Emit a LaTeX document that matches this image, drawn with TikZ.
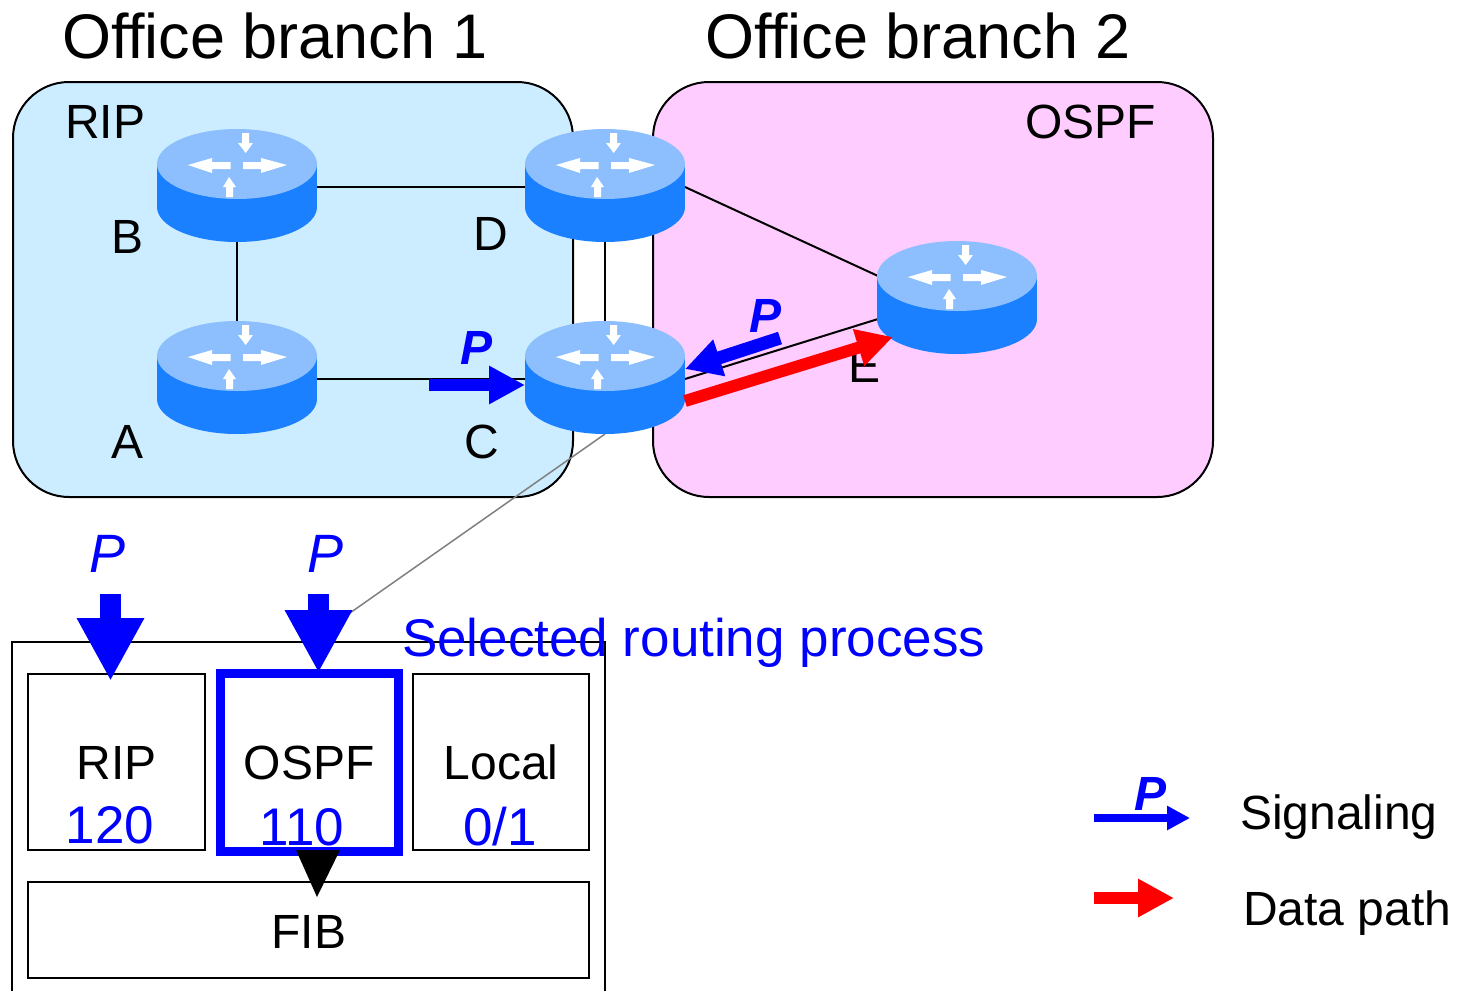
\documentclass[tikz,border=0pt]{standalone}
\usepackage{fontspec}
\setmainfont{Liberation Sans}
\usetikzlibrary{arrows.meta}
\definecolor{ripbg}{HTML}{CCECFF}
\definecolor{ospfbg}{HTML}{FFCCFF}
\definecolor{rtop}{HTML}{8DBFFF}
\definecolor{rbody}{HTML}{1A80FF}
\newcommand{\fs}[1]{\fontsize{#1}{#1}\selectfont}
\tikzset{
  lbl/.style={inner sep=0pt,outer sep=0pt,text=black,font=\fs{48}},
  title/.style={lbl,anchor=base west,font=\fs{63}},
  blue/.style={lbl,text=blue},
  boldp/.style={blue,anchor=base,font=\fs{48}\bfseries\itshape},
  bigp/.style={blue,anchor=base,font=\fs{54}\itshape},
  prio/.style={blue,anchor=base,font=\fs{53}},
  region/.style={draw=black,line width=2pt,rounded corners=56pt},
  box/.style={draw=black,line width=2pt,fill=white},
  link/.style={draw=black,line width=2pt},
  sig/.style={draw=blue,line width=#1,-{Triangle[length=36pt,width=36pt]}},
  dat/.style={draw=red,line width=12pt,-{Triangle[length=36pt,width=36pt]}},
  down/.style={draw=blue,line width=21pt,-{Triangle[length=63pt,width=63pt]}},
  wa/.style={fill=white,draw=none},
  rtr/.style={minimum width=160pt,minimum height=112pt,inner sep=0pt,outer sep=0pt,draw=none}
}
\newcommand{\router}[3]{%
  \node[rtr] (#1) at (#2,#3) {};
  \begin{scope}[shift={(#2,#3)}]
    \fill[rbody] (0,21) ellipse [x radius=80pt,y radius=35pt];
    \fill[rbody] (-80,-22) rectangle (80,21);
    \fill[rtop] (0,-22) ellipse [x radius=80pt,y radius=35pt];
    \fill[wa] (5,-53) -- (12,-53) -- (12,-43) -- (16,-43) -- (8.7,-33) -- (1,-43) -- (5,-43) -- cycle;
    \fill[wa] (-6.3,-24) -- (-25,-24) -- (-25,-28) -- (-49,-21) -- (-25,-13) -- (-25,-17) -- (-6.3,-17) -- cycle;
    \fill[wa] (6,-24) -- (24,-24) -- (24,-28) -- (50,-21) -- (24,-13) -- (24,-17) -- (6,-17) -- cycle;
    \fill[wa] (-11,11) -- (-4,11) -- (-4,1) -- (-1,1) -- (-8,-9) -- (-14,1) -- (-11,1) -- cycle;
  \end{scope}}
\begin{document}
\begin{tikzpicture}[x=1pt,y=-1pt]
\useasboundingbox (0,0) rectangle (1461,991);
\fill[white] (0,0) rectangle (1461,991);
% regions
\draw[region,fill=ospfbg] (653,82) rectangle (1213,497);
\draw[region,fill=ripbg] (13,82) rectangle (573,497);
\node[title] (t1) at (62,58) {Office branch 1};
\node[title] (t2) at (705,58) {Office branch 2};
\node[lbl,anchor=base west] (rip) at (65,138) {RIP};
\node[lbl,anchor=base west] (ospf) at (1025,138) {OSPF};
% router anchors
\node[rtr] (b0) at (237,186) {};
\node[rtr] (d0) at (605,186) {};
\node[rtr] (a0) at (237,378) {};
\node[rtr] (c0) at (605,378) {};
\node[rtr] (e0) at (957,298) {};
\coordinate (ed) at (878,276);
\coordinate (ec) at (878,319);
\coordinate (dd) at (685,187);
\coordinate (cc) at (685,379);
\coordinate (bb) at (317,187);
\coordinate (dl) at (525,187);
\coordinate (aa) at (317,379);
\coordinate (cl) at (525,379);
\coordinate (gend) at (310,641);
% selection box (open at the bottom)
\draw[link] (12,991) -- (12,642) -- (605,642) -- (605,991);
% connectors
\draw[link] (bb) -- (dl);
\draw[link] (b0.south) -- (a0.north);
\draw[link] (aa) -- (cl);
\draw[link] (d0.south) -- (c0.north);
\draw[link] (dd) -- (ed);
\draw[link] (cc) -- (ec);
\draw[draw=black!50,line width=1.5pt] (c0.south) -- (gend);
% routers
\router{b}{237}{186}
\router{d}{605}{186}
\router{a}{237}{378}
\router{c}{605}{378}
\router{e}{957}{298}
\node[lbl,anchor=base] (lb) at (128,253) {B};
\node[lbl,anchor=base] (ld) at (491,250) {D};
\node[lbl,anchor=base] (la) at (128,458) {A};
\node[lbl,anchor=base] (lc) at (482,458) {C};
\node[lbl,anchor=base] (le) at (864,382) {E};
% signalling and data path
\coordinate (s1) at (429,385);
\coordinate (s2) at (780,338);
\coordinate (d1) at (685,401);
\draw[sig=12pt] (s1) -- (c.west |- s1);
\draw[sig=13pt] (s2) -- (685,369);
\draw[dat] (d1) -- (893,337);
\node[boldp] (p1) at (477,364) {P};
\node[boldp] (p2) at (765,332) {P};
\node[bigp] (p3) at (108,572) {P};
\node[bigp] (p4) at (326,572) {P};
% process boxes
\node[box,minimum width=177pt,minimum height=176pt,inner sep=0pt] (brip) at (116.5,762) {};
\node[box,minimum width=176pt,minimum height=176pt,inner sep=0pt] (bloc) at (501,762) {};
\node[box,minimum width=561pt,minimum height=96pt,inner sep=0pt] (bfib) at (308.5,930) {};
\node[draw=blue,line width=9pt,minimum width=178pt,minimum height=178pt,inner sep=0pt] (bosp) at (309,762) {};
\node[lbl,anchor=base] (x1) at (117,779) {RIP};
\node[lbl,anchor=base] (x2) at (309,779) {OSPF};
\node[lbl,anchor=base] (x3) at (501,779) {Local};
\node[prio] (n1) at (110,843) {120};
\node[prio] (n2) at (302,845) {110};
\node[prio] (n3) at (500,845) {0/1};
\node[lbl,anchor=base] (x4) at (309,948) {FIB};
\draw[down] (110.5,594) -- (110.5,681);
\draw[down] (318.5,594) -- (318.5,673);
\fill[blue] (296,850) -- (340,850) -- (317,897) -- cycle;
\node[prio,anchor=base west] (sel) at (402,656) {Selected routing process};
% legend
\coordinate (l1) at (1094,818);
\coordinate (l2) at (1094,898);
\draw[draw=blue,line width=7.5pt,-{Triangle[length=23pt,width=23pt]}] (l1) -- (1190,818);
\draw[draw=red,line width=12pt,-{Triangle[length=36pt,width=36pt]}] (l2) -- (1174,898);
\node[boldp] (p5) at (1150,810) {P};
\node[lbl,anchor=base west] (sg) at (1240,829) {Signaling};
\node[lbl,anchor=base west] (dp) at (1243,925) {Data path};
\end{tikzpicture}
\end{document}
